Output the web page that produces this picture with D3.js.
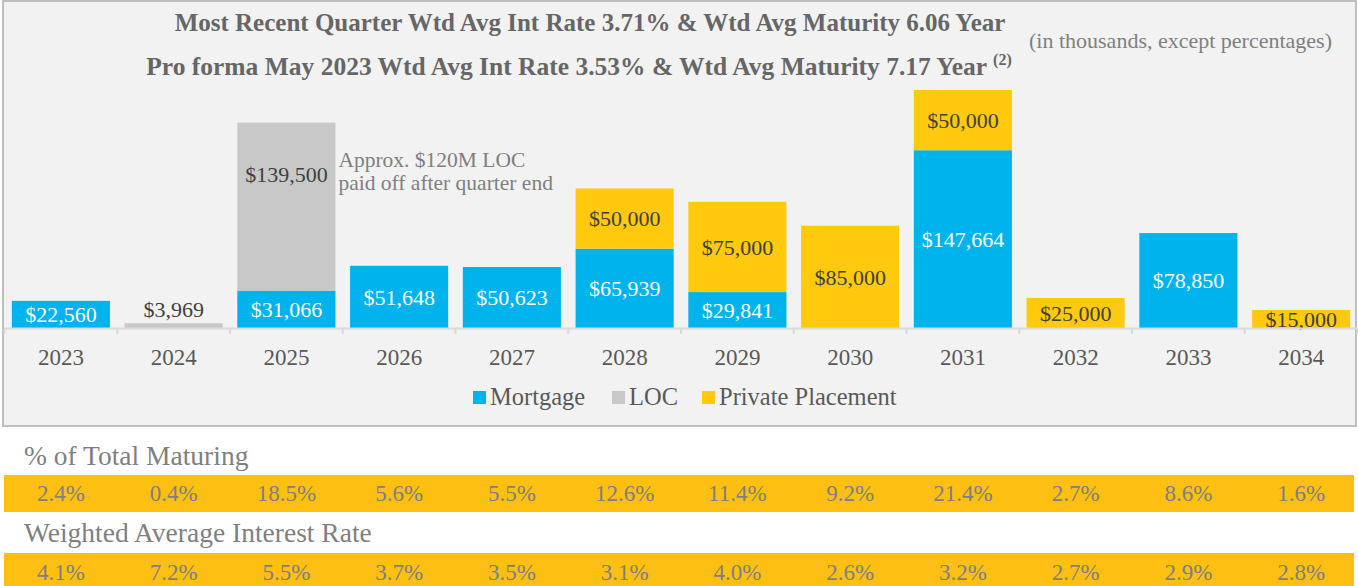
<!DOCTYPE html>
<html>
<head>
<meta charset="utf-8">
<script src="https://cdn.jsdelivr.net/npm/d3@7"></script>
<style>
  body { margin: 0; background: #ffffff; }
  svg text { font-family: "Liberation Serif", "DejaVu Serif", serif; }
</style>
</head>
<body>
<script>
// data
const years = ['2023', '2024', '2025', '2026', '2027', '2028', '2029', '2030', '2031', '2032', '2033', '2034'];
const mortgage = [22560, 0, 31066, 51648, 50623, 65939, 29841, 0, 147664, 0, 78850, 0];
const loc = [0, 3969, 139500, 0, 0, 0, 0, 0, 0, 0, 0, 0];
const privatePlacement = [0, 0, 0, 0, 0, 50000, 75000, 85000, 50000, 25000, 0, 15000];
const pctTotal = ['2.4%', '0.4%', '18.5%', '5.6%', '5.5%', '12.6%', '11.4%', '9.2%', '21.4%', '2.7%', '8.6%', '1.6%'];
const wtdRate = ['4.1%', '7.2%', '5.5%', '3.7%', '3.5%', '3.1%', '4.0%', '2.6%', '3.2%', '2.7%', '2.9%', '2.8%'];
const seriesNames = ['Mortgage', 'LOC', 'Private Placement'];

const W = 1358, H = 586;
const colors = { 'Mortgage': '#00b3ec', 'LOC': '#c8c8c8', 'Private Placement': '#ffc90e' };
const labelColors = { 'Mortgage': '#ffffff', 'LOC': '#404040', 'Private Placement': '#404040' };

const svg = d3.select('body')
    .append('svg')
    .attr('width', W)
    .attr('height', H);

// chart panel
svg.append('rect')
    .attr('x', 3)
    .attr('y', 1)
    .attr('width', 1353)
    .attr('height', 425)
    .attr('fill', '#f2f2f2')
    .attr('stroke', '#bfbfbf')
    .attr('stroke-width', 2);

const x = d3.scaleBand()
    .domain(years)
    .range([4.5, 1357.5])
    .paddingInner(0.13)
    .paddingOuter(0.065);

const y = d3.scaleLinear()
    .domain([0, 200000])
    .range([328, 87.2]);

const table = years.map((yr, i) => ({
    year: yr,
    'Mortgage': mortgage[i],
    'LOC': loc[i],
    'Private Placement': privatePlacement[i]
}));
const stacked = d3.stack().keys(seriesNames)(table);

// titles
svg.append('text')
    .attr('x', 590)
    .attr('y', 31)
    .attr('text-anchor', 'middle')
    .attr('font-size', 25)
    .attr('font-weight', 'bold')
    .attr('fill', '#666666')
    .text('Most Recent Quarter Wtd Avg Int Rate 3.71% & Wtd Avg Maturity 6.06 Year');

const t2 = svg.append('text')
    .attr('x', 579)
    .attr('y', 75)
    .attr('text-anchor', 'middle')
    .attr('font-size', 25.5)
    .attr('font-weight', 'bold')
    .attr('fill', '#666666');
t2.append('tspan').text('Pro forma May 2023 Wtd Avg Int Rate 3.53% & Wtd Avg Maturity 7.17 Year ');
t2.append('tspan')
    .attr('font-size', 16)
    .attr('dy', -10)
    .text('(2)');

svg.append('text')
    .attr('x', 1332)
    .attr('y', 48)
    .attr('text-anchor', 'end')
    .attr('font-size', 22)
    .attr('fill', '#7f7f7f')
    .text('(in thousands, except percentages)');

// bars
const layers = svg.append('g')
    .selectAll('g')
    .data(stacked)
    .enter()
    .append('g')
    .attr('fill', d => colors[d.key]);

layers.selectAll('rect')
    .data(d => d.filter(p => p[1] > p[0]))
    .enter()
    .append('rect')
    .attr('x', d => x(d.data.year))
    .attr('y', d => y(d[1]))
    .attr('width', x.bandwidth())
    .attr('height', d => y(d[0]) - y(d[1]));

// value labels
stacked.forEach(s => {
    svg.append('g')
        .selectAll('text')
        .data(s.filter(p => p[1] > p[0]))
        .enter()
        .append('text')
        .attr('x', d => x(d.data.year) + x.bandwidth() / 2)
        .attr('y', d => {
            const h = y(d[0]) - y(d[1]);
            // tiny segments get their label above the bar
            if (h < 10) return y(d[1]) - 14;
            // the tall LOC block carries its label near the top
            if (s.key === 'LOC') return y(d[1]) + 52;
            return (y(d[0]) + y(d[1])) / 2;
        })
        .attr('dy', '0.35em')
        .attr('text-anchor', 'middle')
        .attr('font-size', 22)
        .attr('fill', labelColors[s.key])
        .text(d => '$' + d3.format(',')(d[1] - d[0]));
});

// note beside the 2025 bar
const noteX = x('2025') + x.bandwidth() + 3;
const note = svg.append('text')
    .attr('x', noteX)
    .attr('y', 167)
    .attr('font-size', 21.5)
    .attr('fill', '#7f7f7f');
note.append('tspan').text('Approx. $120M LOC');
note.append('tspan')
    .attr('x', noteX)
    .attr('dy', 23)
    .text('paid off after quarter end');

// x axis
const axis = svg.append('g')
    .attr('transform', 'translate(0,328)')
    .call(d3.axisBottom(x).tickSize(0).tickPadding(21));
axis.select('.domain').attr('stroke', '#d9d9d9').attr('stroke-width', 2);
axis.selectAll('text')
    .attr('font-size', 23)
    .attr('fill', '#595959')
    .attr('font-family', '"Liberation Serif", serif');

const bounds = years.map(yr => x(yr) - x.step() * x.paddingInner() / 2)
    .concat([1357.5]);
svg.append('g')
    .selectAll('line')
    .data(bounds)
    .enter()
    .append('line')
    .attr('x1', d => d)
    .attr('x2', d => d)
    .attr('y1', 328)
    .attr('y2', 334)
    .attr('stroke', '#d9d9d9')
    .attr('stroke-width', 2);

// legend
const legendX = [473, 612, 702];
const legend = svg.append('g')
    .selectAll('g')
    .data(seriesNames)
    .enter()
    .append('g')
    .attr('transform', (d, i) => `translate(${legendX[i]},391)`);
legend.append('rect')
    .attr('width', 13)
    .attr('height', 13)
    .attr('fill', d => colors[d]);
legend.append('text')
    .attr('x', 17)
    .attr('y', 14)
    .attr('font-size', 24.5)
    .attr('fill', '#595959')
    .text(d => d);

// table rows below the chart
const rows = [
    { title: '% of Total Maturing', values: pctTotal, titleY: 465, bandY: 475, bandH: 37, textY: 493 },
    { title: 'Weighted Average Interest Rate', values: wtdRate, titleY: 542, bandY: 553, bandH: 33, textY: 572 }
];

rows.forEach(r => {
    svg.append('text')
        .attr('x', 24)
        .attr('y', r.titleY)
        .attr('font-size', 27.5)
        .attr('fill', '#7f7f7f')
        .text(r.title);
    svg.append('rect')
        .attr('x', 4)
        .attr('y', r.bandY)
        .attr('width', 1350)
        .attr('height', r.bandH)
        .attr('fill', '#fcbf12');
    svg.append('g')
        .selectAll('text')
        .data(r.values)
        .enter()
        .append('text')
        .attr('x', (d, i) => x(years[i]) + x.bandwidth() / 2)
        .attr('y', r.textY)
        .attr('dy', '0.35em')
        .attr('text-anchor', 'middle')
        .attr('font-size', 23)
        .attr('fill', '#7f7f7f')
        .text(d => d);
});
</script>
</body>
</html>
